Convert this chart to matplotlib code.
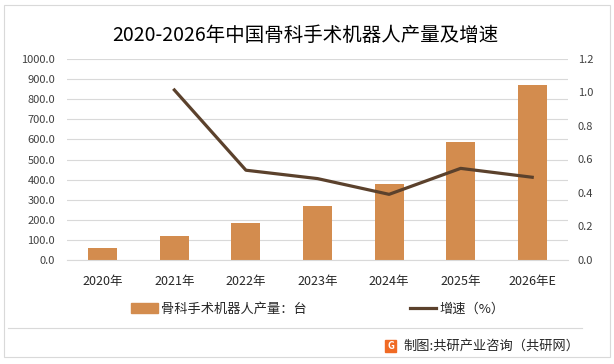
import matplotlib.pyplot as plt
from matplotlib.patches import Rectangle, Patch
from matplotlib.lines import Line2D
import numpy as np

plt.rcParams['font.family'] = ['Noto Sans CJK SC', 'DejaVu Sans']

years = ['2020年', '2021年', '2022年', '2023年', '2024年', '2025年', '2026年E']
output = [60, 119, 183, 268, 377, 586, 870]
growth = [None, 1.015, 0.536, 0.486, 0.392, 0.547, 0.494]

bar_color = '#D38C4E'
line_color = '#5B412C'
grid_color = '#D9D9D9'
text_color = '#404040'

fig = plt.figure(figsize=(6.14, 3.64), dpi=100)
W, H = 614, 364

ax = fig.add_axes([67 / W, 1 - 260 / H, 501 / W, 201 / H])
x = np.arange(len(years))
ax.bar(x, output, width=0.405, color=bar_color, zorder=2)
ax.set_xlim(-0.5, len(years) - 0.5)
ax.set_ylim(0, 1000)
ax.set_yticks(np.arange(0, 1001, 100))
ax.set_yticklabels([f'{v:.1f}' for v in np.arange(0, 1001, 100)])
ax.set_xticks(x)
ax.set_xticklabels(years)
ax.grid(axis='y', color=grid_color, linewidth=0.8, zorder=0)
for s in ax.spines.values():
    s.set_visible(False)
ax.spines['bottom'].set_visible(True)
ax.spines['bottom'].set_color(grid_color)
ax.tick_params(length=0, labelsize=8, colors=text_color)
ax.tick_params(axis='x', pad=11, labelsize=9, labelcolor='#262626')
ax.tick_params(axis='y', pad=8.5)

ax2 = ax.twinx()
gx = [i for i, g in enumerate(growth) if g is not None]
gy = [g for g in growth if g is not None]
ax2.plot(gx, gy, color=line_color, linewidth=2.3, zorder=3)
ax2.set_ylim(0, 1.2)
ax2.set_yticks(np.arange(0, 1.21, 0.2))
ax2.set_yticklabels([f'{v:.1f}' for v in np.arange(0, 1.21, 0.2)])
for s in ax2.spines.values():
    s.set_visible(False)
ax2.tick_params(length=0, labelsize=8, colors=text_color, pad=7)

fig.text(305 / W, 1 - 35 / H, '2020-2026年中国骨科手术机器人产量及增速',
         ha='center', va='center', fontsize=14, color='#000000')

handles = [Patch(color=bar_color), Line2D([0], [0], color=line_color, linewidth=2.3)]
fig.legend(handles, ['骨科手术机器人产量：台', '增速（%）'], loc='center',
           bbox_to_anchor=(318 / W, 1 - 309 / H), ncol=2, frameon=False,
           fontsize=9.5, columnspacing=7.8, handlelength=2.0, handletextpad=0.25,
           labelcolor='#262626')

fig.add_artist(Line2D([8 / W, 582 / W], [1 - 328 / H, 1 - 328 / H],
                      color=grid_color, linewidth=0.8))
fig.add_artist(Rectangle((4 / W, 1 - 357 / H), 606 / W, 352 / H, fill=False,
                         edgecolor=grid_color, linewidth=0.8, transform=fig.transFigure))

fig.add_artist(Rectangle((385 / W, 1 - 352 / H), 11 / W, 12 / H, color='#F06A24',
                         transform=fig.transFigure))
fig.text(390.5 / W, 1 - 346 / H, 'G', ha='center', va='center', fontsize=7,
         color='white', fontweight='bold')
fig.text(403 / W, 1 - 346 / H, '制图:共研产业咨询（共研网）', ha='left', va='center',
         fontsize=9.5, color='#262626')

fig.savefig('out.png', dpi=100)
